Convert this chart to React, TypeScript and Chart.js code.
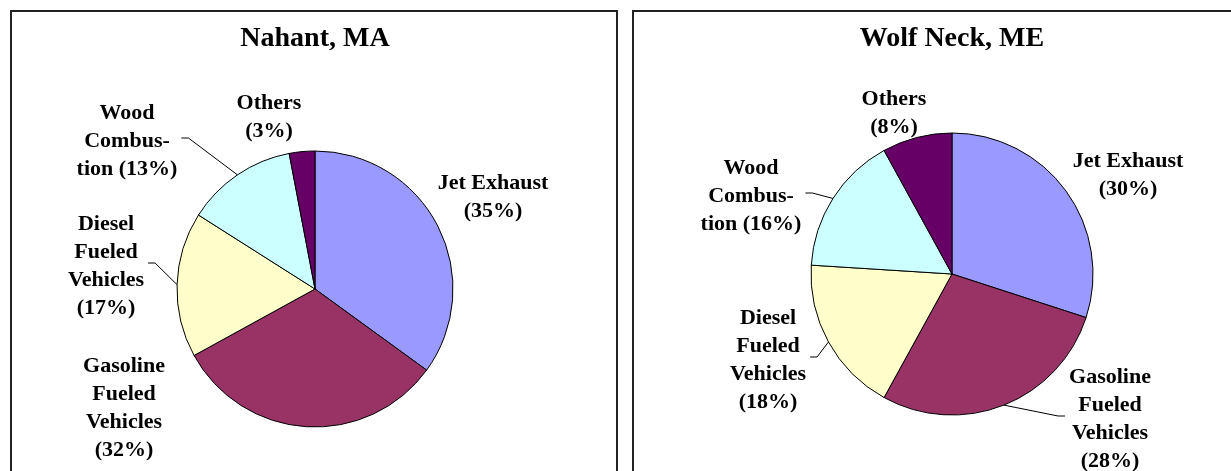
import React, { useEffect, useRef } from "react";
import { Chart, registerables } from "chart.js";

Chart.register(...registerables);

// ---- data ----
const categories = ["Jet Exhaust", "Gasoline Fueled Vehicles", "Diesel Fueled Vehicles", "Wood Combustion", "Others"];
const nahantValues = [35, 32, 17, 13, 3];
const wolfNeckValues = [30, 28, 18, 16, 8];
const nahantTitle = "Nahant, MA";
const wolfNeckTitle = "Wolf Neck, ME";
// label text lines (percentage appended from the values)
const labelLines = [["Jet Exhaust"], ["Gasoline", "Fueled", "Vehicles"], ["Diesel", "Fueled", "Vehicles"], ["Wood", "Combus-", "tion"], ["Others"]];
const pctInline = [false, false, false, true, false];

// ---- styles / layout ----
const sliceColors = ["#9999FF", "#993366", "#FFFFCC", "#CCFFFF", "#660066"];
const FONT = '"Liberation Serif", "Times New Roman", serif';
// label offsets from pie centre (px)
const nahantLabelOffsets = [[178, -92], [-191, 119], [-209, -23], [-188, -148], [-46, -172]];
const wolfNeckLabelOffsets = [[176, -99], [158, 145], [-184, 86], [-201, -78], [-58, -161]];
const nahantLeaders = [false, false, true, true, false];
const wolfNeckLeaders = [false, true, true, true, false];

function makeCalloutPlugin(offsets: number[][], leaders: boolean[], values: number[]) {
  return {
    id: "callouts",
    afterDatasetsDraw(chart: any) {
      const ctx = chart.ctx;
      const meta = chart.getDatasetMeta(0);
      ctx.save();
      ctx.font = `bold 22px ${FONT}`;
      ctx.textAlign = "center";
      ctx.textBaseline = "middle";
      ctx.fillStyle = "#000";
      const lh = 28;
      meta.data.forEach((el: any, i: number) => {
        const p = el.getProps(["x", "y", "startAngle", "endAngle", "outerRadius"], true);
        const lines = labelLines[i].slice();
        const pct = `(${values[i]}%)`;
        if (pctInline[i]) lines[lines.length - 1] = lines[lines.length - 1] + " " + pct;
        else lines.push(pct);
        const lx = p.x + offsets[i][0];
        const ly = p.y + offsets[i][1];
        const n = lines.length;
        let w = 0;
        lines.forEach((t: string, k: number) => {
          w = Math.max(w, ctx.measureText(t).width);
          ctx.fillText(t, lx, ly + (k - (n - 1) / 2) * lh);
        });
        if (leaders[i]) {
          const mid = (p.startAngle + p.endAngle) / 2;
          const ex = p.x + Math.cos(mid) * p.outerRadius;
          const ey = p.y + Math.sin(mid) * p.outerRadius;
          const dir = ex > lx ? 1 : -1;
          const sx = lx + dir * (w / 2 + 4);
          const sy = ly - 3;
          ctx.beginPath();
          ctx.strokeStyle = "#000";
          ctx.lineWidth = 1;
          ctx.moveTo(sx, sy);
          ctx.lineTo(sx + dir * 7, sy);
          ctx.lineTo(ex, ey);
          ctx.stroke();
        }
      });
      ctx.restore();
    },
  };
}

function PieChart(props: { title: string; values: number[]; offsets: number[][]; leaders: boolean[]; radius: number; titleBottom: number; padLeft: number; width: number; height: number }) {
  const ref = useRef<HTMLCanvasElement>(null);
  useEffect(() => {
    if (!ref.current) return;
    const chart = new Chart(ref.current, {
      type: "pie",
      data: {
        labels: categories,
        datasets: [
          {
            data: props.values,
            backgroundColor: sliceColors,
            borderColor: "#000",
            borderWidth: 1,
          },
        ],
      },
      options: {
        responsive: false,
        animation: false,
        devicePixelRatio: 1,
        radius: props.radius,
        events: [],
        layout: { padding: { left: props.padLeft, right: 0, top: 0, bottom: 0 } },
        plugins: {
          legend: { display: false },
          tooltip: { enabled: false },
          title: {
            display: true,
            text: props.title,
            color: "#000",
            font: { family: FONT, size: 28, weight: "bold", lineHeight: 1.2 },
            padding: { top: 10, bottom: props.titleBottom },
          },
        },
      } as any,
      plugins: [makeCalloutPlugin(props.offsets, props.leaders, props.values)],
    });
    return () => chart.destroy();
  }, []);
  return <canvas ref={ref} width={props.width} height={props.height} style={{ display: "block" }} />;
}

export default function App() {
  return (
    <div style={{ position: "fixed", left: 0, top: 0, right: 0, bottom: 0, overflow: "hidden", background: "#fff" }}>
      <div style={{ position: "absolute", left: 10, top: 10, width: 604, height: 470, border: "2px solid #222" }}>
        <PieChart title={nahantTitle} values={nahantValues} offsets={nahantLabelOffsets} leaders={nahantLeaders} radius={138} titleBottom={51.4} padLeft={2} width={604} height={459} />
      </div>
      <div style={{ position: "absolute", left: 632, top: 10, width: 620, height: 470, border: "2px solid #222" }}>
        <PieChart title={wolfNeckTitle} values={wolfNeckValues} offsets={wolfNeckLabelOffsets} leaders={wolfNeckLeaders} radius={141} titleBottom={21.4} padLeft={36} width={600} height={459} />
      </div>
    </div>
  );
}
